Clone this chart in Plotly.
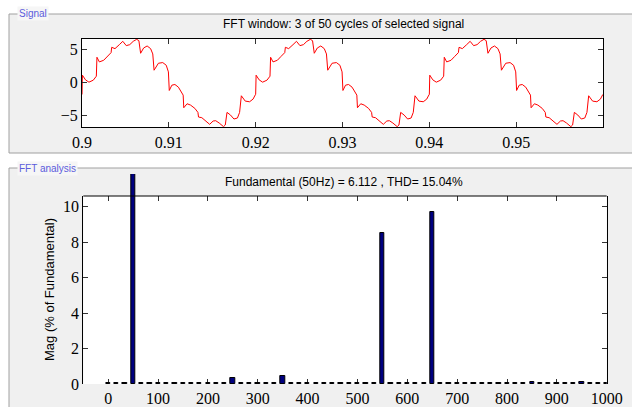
import plotly.graph_objects as go

W, H = 632, 407

# ---------------- data ----------------
# one cycle of the signal (time in ms inside a 20 ms cycle, value)
cycle_ms = [0.00, 0.05, 0.4, 0.8, 1.3, 1.65, 1.72, 2.0, 2.5, 2.9, 3.35, 3.42, 3.8, 4.3, 4.7,
            5.1, 5.5, 5.9, 6.3, 6.55, 6.75, 7.1, 7.5, 7.9, 8.15, 8.3, 8.8, 9.3, 9.7, 9.95,
            10.05, 10.35, 10.7, 11.1, 11.5, 11.65, 11.72, 12.1, 12.5, 13.0, 13.35, 13.42,
            13.8, 14.3, 14.7, 15.1, 15.4, 15.8, 16.3, 16.5, 16.7, 17.1, 17.5, 17.9, 18.15,
            18.35, 18.8, 19.3, 19.7, 19.98]
cycle_v = [-1.8, 1.1, 0.4, 0.05, 0.35, 0.95, 3.8, 3.1, 3.35, 3.9, 4.5, 5.3, 5.1, 5.7, 6.2,
           5.55, 5.7, 6.2, 6.5, 6.3, 4.4, 5.2, 5.5, 5.1, 4.3, 1.85, 2.9, 3.0, 2.6, 1.6,
           -1.2, -0.4, -0.3, -0.7, -1.5, -1.9, -3.8, -3.2, -3.4, -3.9, -4.5, -5.2,
           -5.3, -5.8, -6.3, -5.8, -5.75, -6.1, -6.65, -6.4, -4.5, -4.9, -5.5, -5.35, -4.5,
           -2.0, -2.8, -2.9, -2.5, -1.8]
n_cycles = 3
t_start = 0.9
period_s = 0.02

# FFT magnitudes (% of fundamental) for bins 0 .. 60 (bin spacing 50/3 Hz)
bin_hz = 50.0 / 3.0
fft_mag = [0.05, 0.05, 0.05, 100.0, 0.05, 0.05, 0.05, 0.05, 0.05, 0.05,
           0.05, 0.05, 0.05, 0.05, 0.05, 0.35, 0.05, 0.05, 0.05, 0.05,
           0.05, 0.47, 0.05, 0.05, 0.05, 0.05, 0.05, 0.05, 0.05, 0.05,
           0.05, 0.05, 0.05, 8.52, 0.05, 0.05, 0.05, 0.05, 0.05, 9.67,
           0.05, 0.05, 0.05, 0.05, 0.05, 0.05, 0.05, 0.05, 0.05, 0.05,
           0.05, 0.1, 0.05, 0.05, 0.05, 0.05, 0.05, 0.1, 0.05, 0.05, 0.05]

sig_xticks = [0.9, 0.91, 0.92, 0.93, 0.94, 0.95]
sig_xticklabels = ["0.9", "0.91", "0.92", "0.93", "0.94", "0.95"]
sig_yticks = [-5, 0, 5]
fft_xticks = [0, 100, 200, 300, 400, 500, 600, 700, 800, 900, 1000]
fft_yticks = [0, 2, 4, 6, 8, 10]

sig_title = "FFT window: 3 of 50 cycles of selected signal"
fft_title = "Fundamental (50Hz) = 6.112 , THD= 15.04%"
fft_ytitle = "Mag (% of Fundamental)"

# ---------------- build series ----------------
sig_t, sig_v = [], []
for c in range(n_cycles):
    for ms, v in zip(cycle_ms, cycle_v):
        sig_t.append(t_start + c * period_s + ms / 1000.0)
        sig_v.append(v)
freqs = [k * bin_hz for k in range(len(fft_mag))]

# ---------------- layout helpers (pixel -> paper) ----------------
def px(x):
    return x / W

def py(y):
    return 1 - y / H

TOP = dict(l=82, r=603, t=39, b=127)
BOT = dict(l=83.3, r=606.7, t=196, b=384)
BAR_TOP = 174  # bars may rise above the axes box up to here
fft_yrange = [0, 10.6]
bar_range_top = fft_yrange[1] * (BOT["b"] - BAR_TOP) / (BOT["b"] - BOT["t"])

serif = "Liberation Serif"
sans = "Liberation Sans"
tick_font = dict(family=serif, size=16, color="black")

fig = go.Figure()
fig.add_trace(go.Scatter(x=sig_t, y=sig_v, mode="lines",
                         line=dict(color="#ff0000", width=1), xaxis="x", yaxis="y",
                         showlegend=False, hoverinfo="skip"))
# empty trace that registers the FFT axes box
fig.add_trace(go.Scatter(x=[None], y=[None], mode="markers", xaxis="x2", yaxis="y2",
                         showlegend=False, hoverinfo="skip"))
fig.add_trace(go.Bar(x=freqs, y=fft_mag, width=8.5, xaxis="x2", yaxis="y3",
                     marker=dict(color="#000080", line=dict(color="black", width=1)),
                     showlegend=False, hoverinfo="skip"))

axis_common = dict(showgrid=False, zeroline=False, showline=True, linecolor="black",
                   linewidth=1, ticks="inside", ticklen=5, tickcolor="#333",
                   tickfont=tick_font, automargin=False)

shapes = [
    # panel backgrounds
    dict(type="rect", xref="paper", yref="paper", x0=px(9), x1=px(645), y0=py(153), y1=py(14),
         fillcolor="#f0f0f0", line=dict(color="#a0a0a0", width=1), layer="below"),
    dict(type="rect", xref="paper", yref="paper", x0=px(9), x1=px(645), y0=py(420), y1=py(168),
         fillcolor="#f0f0f0", line=dict(color="#a0a0a0", width=1), layer="below"),
    # white plotting areas
    dict(type="rect", xref="paper", yref="paper", x0=px(TOP["l"]), x1=px(TOP["r"]),
         y0=py(TOP["b"]), y1=py(TOP["t"]), fillcolor="white", line=dict(width=0), layer="below"),
    dict(type="rect", xref="paper", yref="paper", x0=px(BOT["l"]), x1=px(BOT["r"]),
         y0=py(BOT["b"]), y1=py(BOT["t"]), fillcolor="white", line=dict(width=0), layer="below"),
    # top edge of the FFT axes box
    dict(type="line", xref="paper", yref="paper", x0=px(BOT["l"]), x1=px(BOT["r"]),
         y0=py(BOT["t"]), y1=py(BOT["t"]), line=dict(color="black", width=1)),
]

annotations = [
    dict(text=sig_title, x=px(343), y=py(23.5), xref="paper", yref="paper",
         showarrow=False, font=dict(family=sans, size=12, color="black"),
         xanchor="center", yanchor="middle"),
    dict(text=fft_title, x=px(344), y=py(181.5), xref="paper", yref="paper",
         showarrow=False, font=dict(family=sans, size=12, color="black"),
         xanchor="center", yanchor="middle"),
    dict(text=fft_ytitle, x=px(49), y=py(290), xref="paper", yref="paper",
         showarrow=False, textangle=-90, font=dict(family=sans, size=13, color="black"),
         xanchor="center", yanchor="middle"),
    dict(text="Signal", x=px(17), y=py(14), xref="paper", yref="paper",
         showarrow=False, font=dict(family=sans, size=10, color="#5c5cdc"),
         xanchor="left", yanchor="middle", bgcolor="#f6f6f6", borderpad=1),
    dict(text="FFT analysis", x=px(17), y=py(168), xref="paper", yref="paper",
         showarrow=False, font=dict(family=sans, size=10, color="#5c5cdc"),
         xanchor="left", yanchor="middle", bgcolor="#f6f6f6", borderpad=1),
]

fig.update_layout(
    width=W, height=H, margin=dict(l=0, r=0, t=0, b=0, autoexpand=False),
    font=dict(family=serif, size=16, color="black"),
    paper_bgcolor="white", plot_bgcolor="rgba(0,0,0,0)",
    bargap=0,
    xaxis=dict(domain=[px(TOP["l"]), px(TOP["r"])], range=[0.9, 0.96], anchor="y",
               tickvals=sig_xticks, ticktext=sig_xticklabels, mirror="ticks",
               ticklabelstandoff=1, **axis_common),
    yaxis=dict(domain=[py(TOP["b"]), py(TOP["t"])], range=[-6.7, 6.55], anchor="x",
               tickvals=sig_yticks, mirror="ticks", **axis_common),
    xaxis2=dict(domain=[px(BOT["l"]), px(BOT["r"])], range=[-50, 1000], anchor="y2",
                tickvals=fft_xticks, mirror="ticks", ticklabelstandoff=3,
                **{**axis_common, "showline": False}),
    yaxis2=dict(domain=[py(BOT["b"]), py(BOT["t"])], range=fft_yrange, anchor="x2",
                tickvals=fft_yticks, mirror="ticks", **axis_common),
    yaxis3=dict(domain=[py(BOT["b"]), py(BAR_TOP)], range=[0, bar_range_top], anchor="x2",
                visible=False, showgrid=False, zeroline=False),
    shapes=shapes, annotations=annotations,
)

fig.write_html("out.html")
